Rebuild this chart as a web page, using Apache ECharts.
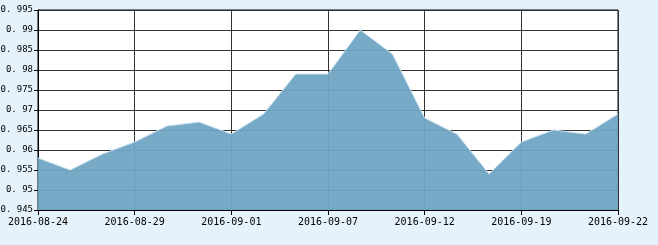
<!DOCTYPE html>
<html>
<head>
<meta charset="utf-8">
<script src="https://cdn.jsdelivr.net/npm/echarts@6/dist/echarts.min.js"></script>
<style>
html,body{margin:0;padding:0;background:#e6f2fb;}
#c{width:658px;height:245px;}
</style>
</head>
<body>
<div id="c"></div>
<script>
var categories = ["2016-08-24","2016-08-25","2016-08-26","2016-08-29","2016-08-30","2016-08-31","2016-09-01","2016-09-02","2016-09-05","2016-09-07","2016-09-08","2016-09-09","2016-09-12","2016-09-13","2016-09-14","2016-09-19","2016-09-20","2016-09-21","2016-09-22"];
var values = [0.958,0.955,0.959,0.962,0.966,0.967,0.964,0.969,0.979,0.979,0.990,0.984,0.968,0.964,0.954,0.962,0.965,0.964,0.969];
var yMin = 0.945, yMax = 0.995, yStep = 0.005;

var chart = echarts.init(document.getElementById('c'), null, {renderer:'canvas'});
var font = '"DejaVu Sans Mono", "Liberation Mono", monospace';
chart.setOption({
  backgroundColor: '#e6f2fb',
  animation: false,
  grid: {left:38, top:10, width:580, height:200, containLabel:false, outerBoundsMode:'none',
         show:true, backgroundColor:'#ffffff', borderColor:'#000', borderWidth:1},
  xAxis: {
    type:'category', data: categories, boundaryGap:false,
    axisLine:{lineStyle:{color:'#000', width:1}},
    axisTick:{interval:2, length:5, lineStyle:{color:'#000'}},
    axisLabel:{interval:2, color:'#000', fontFamily:font, fontSize:10, margin:7, showMinLabel:true, showMaxLabel:true, hideOverlap:false},
    splitLine:{show:true, interval:2, lineStyle:{color:'#333', width:1}}
  },
  yAxis: {
    type:'value', min:yMin, max:yMax, interval:yStep,
    axisLine:{show:true, lineStyle:{color:'#000', width:1}},
    axisTick:{show:true, length:4, lineStyle:{color:'#000'}},
    axisLabel:{color:'#000', fontFamily:font, fontSize:9, margin:5, align:'right', padding:[2,0,0,0],
      formatter:function(v){ var s = (+v.toFixed(3)).toString(); return s.replace('.', '.\u2009'); }},
    splitLine:{show:true, lineStyle:{color:'#333', width:1}}
  },
  series: [{
    type:'line', data: values, symbol:'none', smooth:false,
    lineStyle:{color:'#cfe4f2', width:1},
    areaStyle:{color:'rgb(110,165,196)', opacity:0.94}
  }]
});
</script>
</body>
</html>
